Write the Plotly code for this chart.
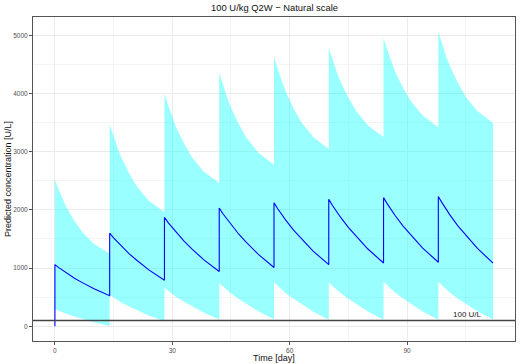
import plotly.graph_objects as go

# Dosing times (days) and within-interval sampling offsets
dose_days = [0, 14, 28, 42, 56, 70, 84, 98]
offsets = [0, 1, 2, 3, 5, 7, 10, 14]

# Predicted mean concentration (U/L), one list per dosing interval
mean_vals = [
    [1060, 1007, 958, 910, 825, 750, 643, 525],
    [1600, 1519, 1446, 1373, 1244, 1130, 968, 790],
    [1870, 1777, 1693, 1610, 1461, 1331, 1145, 940],
    [2030, 1928, 1836, 1744, 1581, 1438, 1234, 1010],
    [2120, 2014, 1918, 1823, 1653, 1504, 1292, 1058],
    [2180, 2071, 1972, 1874, 1699, 1546, 1327, 1087],
    [2210, 2099, 1999, 1899, 1722, 1566, 1344, 1100],
    [2230, 2116, 2012, 1909, 1726, 1566, 1337, 1085],
]
# Upper prediction bound (U/L)
upper_vals = [
    [2520, 2342, 2177, 2037, 1809, 1618, 1415, 1250],
    [3470, 3259, 3062, 2896, 2624, 2398, 2156, 1960],
    [4000, 3784, 3584, 3415, 3138, 2907, 2660, 2460],
    [4360, 4138, 3932, 3758, 3472, 3235, 2981, 2775],
    [4630, 4408, 4202, 4028, 3742, 3505, 3251, 3045],
    [4790, 4574, 4374, 4205, 3928, 3697, 3450, 3250],
    [4950, 4736, 4537, 4369, 4093, 3864, 3619, 3420],
    [5060, 4840, 4636, 4463, 4180, 3945, 3695, 3490],
]
# Lower prediction bound (U/L)
lower_vals = [
    [295, 266, 237, 211, 167, 127, 69, 5],
    [540, 495, 449, 408, 340, 276, 185, 85],
    [660, 606, 551, 502, 420, 344, 235, 115],
    [745, 683, 620, 564, 470, 383, 258, 120],
    [755, 691, 626, 569, 472, 382, 253, 112],
    [758, 693, 628, 570, 473, 382, 253, 110],
    [765, 700, 634, 575, 477, 385, 254, 110],
    [765, 700, 635, 577, 479, 388, 258, 115],
]
threshold = 100
threshold_label = "100 U/L"
x_ticks = [0, 30, 60, 90]
y_ticks = [0, 1000, 2000, 3000, 4000, 5000]

t, m, up, lo = [0], [0], [0], [0]
for d, mv, uv, lv in zip(dose_days, mean_vals, upper_vals, lower_vals):
    for o, a, b, c in zip(offsets, mv, uv, lv):
        t.append(d + o); m.append(a); up.append(b); lo.append(c)

fig = go.Figure()
fig.add_trace(go.Scatter(x=t, y=lo, mode="lines", line=dict(width=0),
                         showlegend=False, hoverinfo="skip"))
fig.add_trace(go.Scatter(x=t, y=up, mode="lines", line=dict(width=0),
                         fill="tonexty", fillcolor="rgba(0,255,255,0.4)",
                         showlegend=False, hoverinfo="skip"))
fig.add_trace(go.Scatter(x=t, y=m, mode="lines", line=dict(color="#0000FF", width=1.1),
                         showlegend=False))
fig.add_shape(type="line", xref="paper", x0=0, x1=1, yref="y", y0=threshold, y1=threshold,
              line=dict(color="#444444", width=1.5))
fig.add_annotation(x=105.5, y=threshold, text=threshold_label, showarrow=False,
                   xanchor="center", yanchor="bottom", yshift=-1,
                   font=dict(size=8, color="#222222"))
# axis titles
fig.add_annotation(xref="paper", yref="paper", x=0.5, y=0, yanchor="top", yshift=-10,
                   text="Time [day]", showarrow=False, font=dict(size=9, color="#111111"))
fig.add_annotation(xref="paper", yref="paper", x=0, y=0.5, xanchor="center", xshift=-25,
                   textangle=-90, text="Predicted concentration [U/L]", showarrow=False,
                   font=dict(size=9, color="#111111"))

axis_common = dict(
    showline=True, linecolor="#555555", linewidth=1, mirror=True,
    ticks="outside", ticklen=3, tickcolor="#555555", tickwidth=1,
    showgrid=True, gridcolor="#EBEBEB", gridwidth=1, zeroline=False,
    tickfont=dict(size=6.5, color="#4D4D4D"), automargin=False,
)
fig.update_xaxes(range=[-5.6, 117.6], tickvals=x_ticks,
                 minor=dict(dtick=15, tick0=0, showgrid=True, gridcolor="#F4F4F4", gridwidth=0.6),
                 **axis_common)
fig.update_yaxes(range=[-253, 5313], tickvals=y_ticks,
                 minor=dict(dtick=500, tick0=0, showgrid=True, gridcolor="#F4F4F4", gridwidth=0.6),
                 **axis_common)
fig.update_layout(
    width=520, height=364,
    margin=dict(l=33, r=5, t=17, b=23, autoexpand=False),
    paper_bgcolor="white", plot_bgcolor="white",
    font=dict(family="Liberation Sans, Arial, sans-serif"),
    title=dict(text="100 U/kg Q2W \u2212 Natural scale", x=0.528, xanchor="center",
               y=1 - 8 / 364, yanchor="middle", yref="container",
               font=dict(size=9.4, color="#111111")),
)
fig.write_html("out.html", config={"displayModeBar": False},
               post_script="document.body.style.margin='0';")
